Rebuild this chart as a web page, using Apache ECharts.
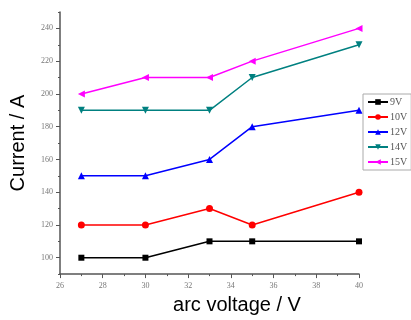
<!DOCTYPE html>
<html>
<head>
<meta charset="utf-8">
<script src="https://cdn.jsdelivr.net/npm/echarts@6/dist/echarts.min.js"></script>
<style>
  html, body {margin: 0; padding: 0; background: #fff;}
  #chart {width: 411px; height: 320px;}
</style>
</head>
<body>
<div id="chart"></div>
<script>
// arc voltage (V)
const voltages = [27, 30, 33, 35, 40];
const seriesNames = ['9V', '10V', '12V', '14V', '15V'];
const current9V = [100, 100, 110, 110, 110];
const current10V = [120, 120, 130, 120, 140];
const current12V = [150, 150, 160, 180, 190];
const current14V = [190, 190, 190, 210, 230];
const current15V = [200, 210, 210, 220, 240];
const yLabelValues = [100, 120, 140, 160, 180, 200, 220, 240];

const colors = ['#000000', '#ff0000', '#0000ff', '#008080', '#ff00ff'];
const symbols = ['rect', 'circle', 'triangle', 'path://M0,0L10,10L20,0Z', 'path://M0,5L10,0L10,10Z'];
const allValues = [current9V, current10V, current12V, current14V, current15V];

const chart = echarts.init(document.getElementById('chart'), null, {renderer: 'canvas'});

const tickFont = {fontFamily: 'Liberation Serif', fontSize: 8, color: '#777'};
const axisLine = {show: true, lineStyle: {color: '#555', width: 1.5}};

chart.setOption({
  backgroundColor: '#fff',
  animation: false,
  grid: {left: 60, right: 52, top: 12, bottom: 44},
  legend: {
    orient: 'vertical',
    left: 363,
    top: 94,
    data: seriesNames,
    backgroundColor: '#fff',
    borderColor: '#aaa',
    borderWidth: 1,
    borderRadius: 0,
    padding: [3, 4, 3, 4],
    itemWidth: 20,
    itemHeight: 7,
    itemGap: 5,
    textStyle: {fontFamily: 'Liberation Serif', fontSize: 10, color: '#555', padding: [0, 0, 0, -3]}
  },
  xAxis: {
    type: 'value',
    min: 26,
    max: 40,
    interval: 2,
    name: 'arc voltage / V',
    nameLocation: 'middle',
    nameGap: 19,
    nameTextStyle: {fontFamily: 'Liberation Sans', fontSize: 20, color: '#000', padding: [0, 0, 0, 55]},
    axisLine: axisLine,
    axisTick: {show: true, inside: false, length: 4, lineStyle: {color: '#555'}},
    minorTick: {show: true, splitNumber: 2, length: 2, lineStyle: {color: '#555'}},
    axisLabel: Object.assign({margin: 8}, tickFont),
    splitLine: {show: false}
  },
  yAxis: [
    {
      type: 'value',
      min: 90,
      max: 250,
      interval: 10,
      name: 'Current / A',
      nameLocation: 'middle',
      nameGap: 32,
      nameTextStyle: {fontFamily: 'Liberation Sans', fontSize: 20, color: '#000'},
      axisLine: axisLine,
      axisTick: {show: true, length: 2, lineStyle: {color: '#555'}},
      axisLabel: {show: false},
      splitLine: {show: false}
    },
    {
      type: 'value',
      min: 90,
      max: 250,
      interval: 10,
      position: 'left',
      axisLine: {show: false},
      axisTick: {show: true, length: 4, customValues: yLabelValues, lineStyle: {color: '#555'}},
      axisLabel: Object.assign({margin: 7, customValues: yLabelValues}, tickFont),
      splitLine: {show: false}
    }
  ],
  series: seriesNames.map((name, i) => ({
    name: name,
    type: 'line',
    yAxisIndex: 0,
    data: voltages.map((v, j) => [v, allValues[i][j]]),
    symbol: symbols[i],
    symbolSize: i === 0 ? 6 : 7,
    lineStyle: {color: colors[i], width: 1.5},
    itemStyle: {color: colors[i]}
  }))
});
</script>
</body>
</html>
